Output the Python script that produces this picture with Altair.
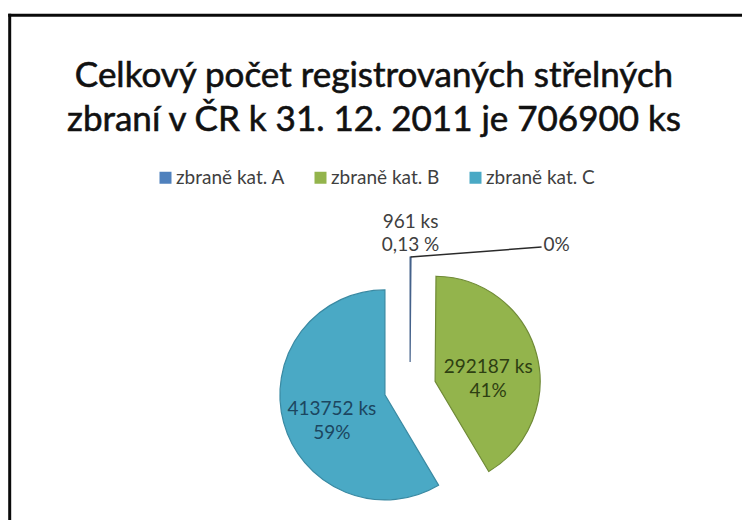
import math
import altair as alt
import pandas as pd

# ---- data ----
CATEGORIES = ["zbraně kat. A", "zbraně kat. B", "zbraně kat. C"]
COUNTS = [961, 292187, 413752]
PCT_LABELS = ["0%", "41%", "59%"]
NOTE_LINES = ["961 ks", "0,13 %"]
TITLE_LINES = ["Celkový počet registrovaných střelných",
               "zbraní v ČR k 31. 12. 2011 je 706900 ks"]

COLORS = ["#4F81BD", "#93B44C", "#4AA9C5"]
STROKES = ["#44618a", "#6f8a36", "#3a8aa3"]
LABEL_COLORS = ["#404040", "#2e3f12", "#1c4660"]

TOTAL = sum(COUNTS)
starts, ends, acc = [], [], 0
for c in COUNTS:
    starts.append(acc)
    acc += c
    ends.append(acc)

df = pd.DataFrame({
    "category": CATEGORIES,
    "count": COUNTS,
    "start": starts,
    "end": ends,
    "pct": PCT_LABELS,
    "label": [f"{c} ks\n{p}" for c, p in zip(COUNTS, PCT_LABELS)],
    "note": ["\n".join(NOTE_LINES), "", ""],
    "lcolor": LABEL_COLORS,
})

# ---- layout ----
W, H = 734, 512
CX, CY = 402, 380
EXPLODE = 26
R = 105
LR = 55
LDX, LDY = 131, -10

xs = alt.Scale(domain=[0, W], range=[0, W], nice=False, zero=False)
ys = alt.Scale(domain=[0, H], range=[0, H], nice=False, zero=False)

base = alt.Chart(df).transform_calculate(
    mid=f"(datum.start + datum.end) / 2 / {TOTAL} * 2 * PI",
).transform_calculate(
    cx=f"{CX} + {EXPLODE} * sin(datum.mid)",
    cy=f"{CY} - {EXPLODE} * cos(datum.mid)",
)

one = pd.DataFrame({"a": [0]})
frame_top = alt.Chart(one).mark_rule(color="#0a0a0a", strokeWidth=3).encode(
    x=alt.value(0.2), x2=alt.value(W), y=alt.value(7.3))
frame_left = alt.Chart(one).mark_rule(color="#0a0a0a", strokeWidth=3).encode(
    x=alt.value(1.7), y=alt.value(5.8), y2=alt.value(H))

arcs = base.mark_arc(outerRadius=R, strokeWidth=1.2).encode(
    x=alt.X("cx:Q", scale=xs, axis=None),
    y=alt.Y("cy:Q", scale=ys, axis=None),
    theta=alt.Theta("start:Q", scale=alt.Scale(domain=[0, TOTAL], range=[0, 2 * math.pi]), stack=None),
    theta2="end:Q",
    color=alt.Color(
        "category:N",
        scale=alt.Scale(domain=CATEGORIES, range=COLORS),
        legend=alt.Legend(
            title=None, orient="none", legendX=148, legendY=160,
            direction="horizontal", symbolType="square", symbolSize=144,
            symbolStrokeWidth=0, labelFont="Lato", labelFontSize=19,
            labelColor="#404040", labelOffset=1, columnPadding=26, padding=0,
        ),
    ),
    stroke=alt.Stroke("category:N", scale=alt.Scale(domain=CATEGORIES, range=STROKES), legend=None),
)

labels = base.transform_filter("datum.count > 10000").transform_calculate(
    lx=f"datum.cx + {LR} * sin(datum.mid)",
    ly=f"datum.cy - {LR} * cos(datum.mid)",
).mark_text(lineBreak="\n", font="Lato", fontSize=19, align="center", baseline="middle", lineHeight=24).encode(
    x=alt.X("lx:Q", scale=xs, axis=None),
    y=alt.Y("ly:Q", scale=ys, axis=None),
    text="label:N",
    fill=alt.Fill("lcolor:N", scale=None),
)

small = base.transform_filter("datum.count < 10000").transform_calculate(
    tx=f"datum.cx + {R} * sin(datum.mid)",
    ty=f"datum.cy - {R} * cos(datum.mid)",
).transform_calculate(
    ex=f"datum.tx + {LDX}",
    ey=f"datum.ty + {LDY}",
)

leader = small.mark_rule(color="#2a2a2a", strokeWidth=1.5).encode(
    x=alt.X("tx:Q", scale=xs, axis=None),
    y=alt.Y("ty:Q", scale=ys, axis=None),
    x2="ex:Q",
    y2="ey:Q",
)

zero_lbl = small.mark_text(font="Lato", fontSize=19, align="left", baseline="middle", dx=2, dy=-2).encode(
    x=alt.X("ex:Q", scale=xs, axis=None),
    y=alt.Y("ey:Q", scale=ys, axis=None),
    text="pct:N",
    fill=alt.Fill("lcolor:N", scale=None),
)

note = small.mark_text(lineBreak="\n", font="Lato", fontSize=19, align="center", baseline="middle",
                       lineHeight=23, dy=-35).encode(
    x=alt.X("tx:Q", scale=xs, axis=None),
    y=alt.Y("ty:Q", scale=ys, axis=None),
    text="note:N",
    fill=alt.Fill("lcolor:N", scale=None),
)

title = alt.Chart(pd.DataFrame({"t": ["\n".join(TITLE_LINES)]})).mark_text(
    lineBreak="\n", lineHeight=44, font="Lato", fontSize=35, align="center",
    baseline="alphabetic", color="#111111", stroke="#111111", strokeWidth=0.6,
).encode(x=alt.value(366), y=alt.value(79), text="t:N")

chart = alt.layer(frame_top, frame_left, arcs, labels, leader, zero_lbl, note, title).properties(
    width=W, height=H, padding=0, autosize="none"
).configure_view(strokeWidth=0, stroke="transparent")

chart.save("out.html", embed_options={"renderer": "svg", "actions": False})
